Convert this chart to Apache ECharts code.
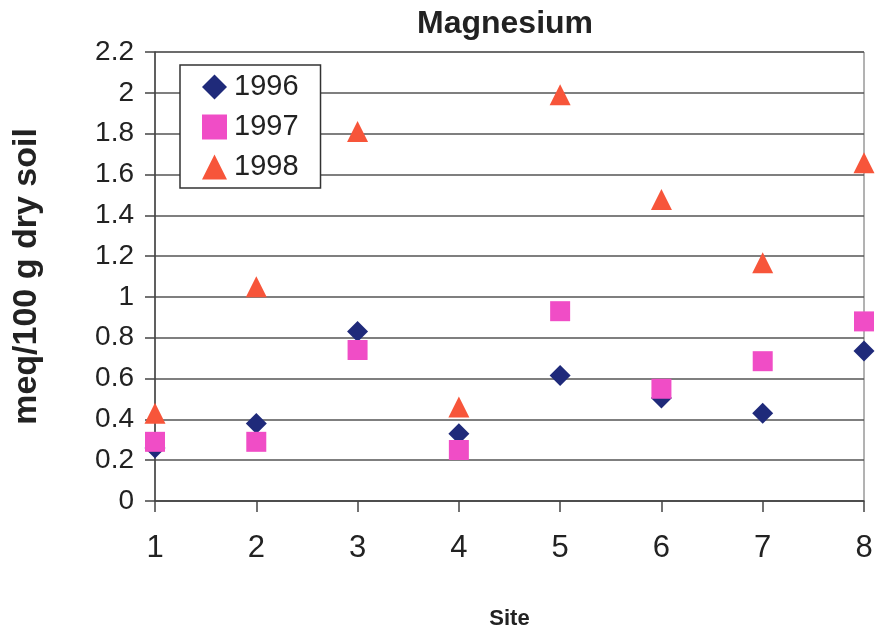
<!DOCTYPE html>
<html><head><meta charset="utf-8">
<script src="https://cdn.jsdelivr.net/npm/echarts@6/dist/echarts.min.js"></script>
<style>html,body{margin:0;padding:0;background:#fff}#c{width:876px;height:637px}</style>
</head><body><div id="c"></div>
<script>
var sites = [1, 2, 3, 4, 5, 6, 7, 8];
var yearNames = ['1996', '1997', '1998'];
var mg1996 = [0.26, 0.38, 0.83, 0.33, 0.615, 0.505, 0.43, 0.735];
var mg1997 = [0.29, 0.29, 0.74, 0.25, 0.93, 0.55, 0.685, 0.88];
var mg1998 = [0.43, 1.05, 1.81, 0.46, 1.99, 1.477, 1.167, 1.657];

function pairs(vals){ return sites.map(function(s,i){ return [s, vals[i]]; }); }

var chart = echarts.init(document.getElementById('c'));
var font = 'Liberation Sans, Arial, sans-serif';
chart.setOption({
  animation: false,
  backgroundColor: '#fff',
  title: { text: 'Magnesium', left: 500, top: 3, textAlign: 'center',
    textStyle: { fontFamily: font, fontSize: 32, fontWeight: 'bold', color: '#222' } },
  grid: { left: 155, right: 12, top: 52, bottom: 136, show: true, borderColor: '#666', borderWidth: 1, backgroundColor: 'transparent' },
  legend: {
    orient: 'vertical', left: 180, top: 65,
    backgroundColor: '#fff', borderColor: '#333', borderWidth: 1.5,
    padding: [7, 22, 6, 22], itemGap: 10, itemWidth: 25, itemHeight: 25,
    textStyle: { fontFamily: font, fontSize: 29, lineHeight: 30, color: '#222', padding: [0, 0, 0, 2] },
    data: yearNames
  },
  xAxis: {
    type: 'value', min: 1, max: 8, interval: 1,
    name: 'Site', nameLocation: 'middle', nameGap: 107,
    nameTextStyle: { fontFamily: font, fontSize: 22, fontWeight: 'bold', color: '#222' },
    axisLine: { show: true, lineStyle: { color: '#444', width: 1.5 } },
    axisTick: { show: true, length: 11, lineStyle: { color: '#444', width: 1.5 } },
    axisLabel: { fontFamily: font, fontSize: 31, color: '#222', margin: 32 },
    splitLine: { show: false }
  },
  yAxis: {
    type: 'value', min: 0, max: 2.2, interval: 0.2,
    name: 'meq/100 g dry soil', nameLocation: 'middle', nameGap: 111,
    nameTextStyle: { fontFamily: font, fontSize: 34, fontWeight: 'bold', color: '#222' },
    axisLine: { show: true, lineStyle: { color: '#444', width: 1.5 } },
    axisTick: { show: true, length: 10, lineStyle: { color: '#444', width: 1.5 } },
    axisLabel: { fontFamily: font, fontSize: 28, color: '#222', margin: 21,
      formatter: function(v){ return String(Math.round(v*10)/10); } },
    splitLine: { show: true, lineStyle: { color: '#555', width: 1.5 } }
  },
  series: [
    { name: yearNames[0], type: 'scatter', symbol: 'diamond', symbolSize: 21, z: 2,
      itemStyle: { color: '#1F2A7A', opacity: 1 }, data: pairs(mg1996) },
    { name: yearNames[1], type: 'scatter', symbol: 'rect', symbolSize: 20, z: 3,
      itemStyle: { color: '#F04DC6', opacity: 1 }, data: pairs(mg1997) },
    { name: yearNames[2], type: 'scatter', symbol: 'triangle', symbolSize: 21, z: 4,
      itemStyle: { color: '#F7553A', opacity: 1 }, data: pairs(mg1998) }
  ]
});
</script></body></html>
